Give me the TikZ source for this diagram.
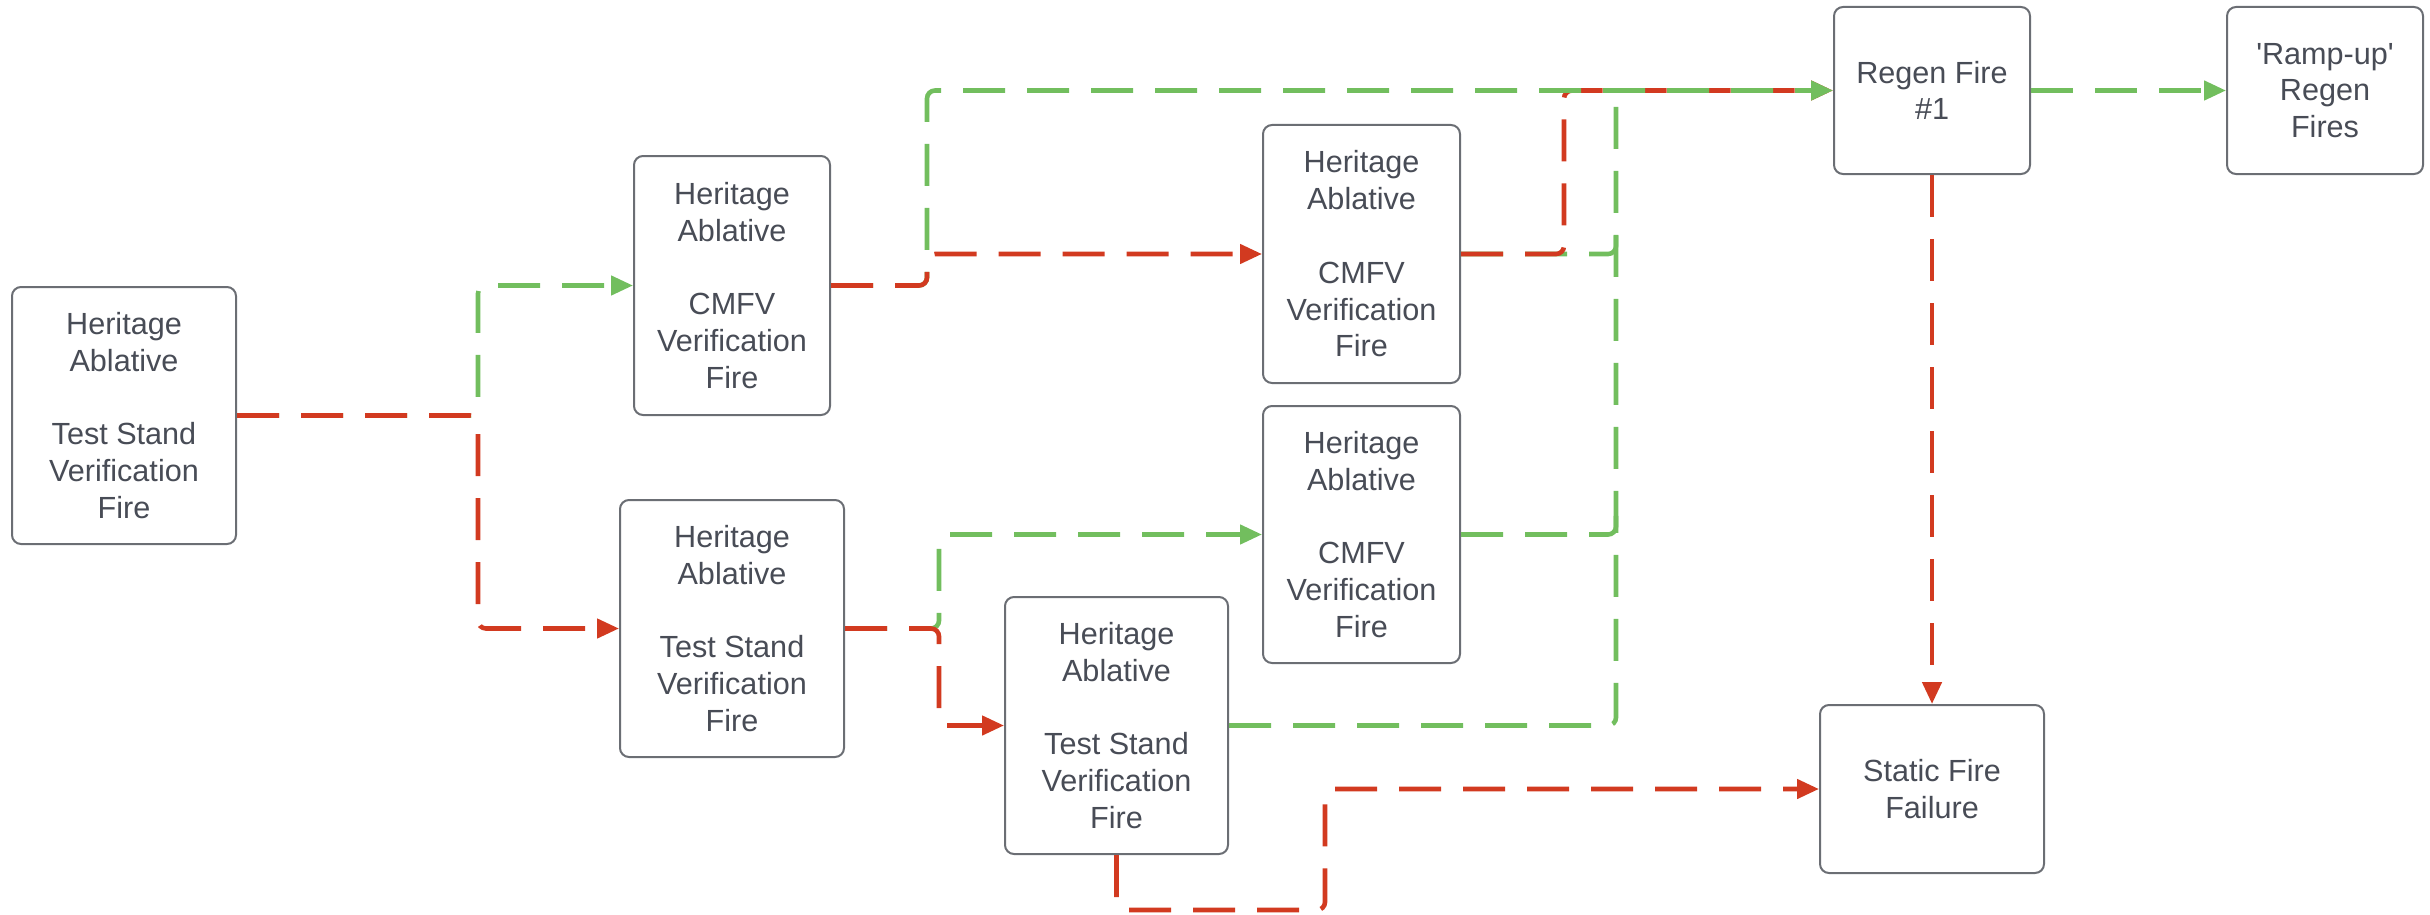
\documentclass[tikz,border=0pt]{standalone}
\usepackage{fontspec}
\setmainfont{Liberation Sans}
\newfontfamily\qfont{Liberation Sans}
\usetikzlibrary{arrows.meta}
\definecolor{lred}{HTML}{D23A20}
\definecolor{lgreen}{HTML}{72BE5E}
\definecolor{boxline}{HTML}{6B6E74}
\definecolor{txt}{HTML}{484C56}
\tikzset{
  box/.style={draw=boxline, line width=1pt, rounded corners=4.5pt, fill=white,
    inner sep=0pt, align=center, text=txt,
    font=\fontsize{15.3}{18.4}\selectfont},
  line/.style={line width=2.3pt, dash pattern=on 21pt off 11pt, rounded corners=4pt},
  conn/.style={line, -{Triangle[length=11pt,width=9.5pt]}},
  redl/.style={conn, draw=lred},
  greenl/.style={conn, draw=lgreen},
  greenj/.style={line, draw=lgreen},
}
\begin{document}
\begin{tikzpicture}[x=0.5pt,y=-0.5pt]
\useasboundingbox (0,0) rectangle (2430,915);
% nodes
\node[box, minimum width=112pt, minimum height=128.5pt] (A) at (124,415.5)
  {Heritage\\Ablative\\[18.4pt]Test Stand\\Verification\\Fire};
\node[box, minimum width=98pt, minimum height=129.5pt] (B1) at (732,285.5)
  {Heritage\\Ablative\\[18.4pt]CMFV\\Verification\\Fire};
\node[box, minimum width=112pt, minimum height=128.5pt] (B2) at (732,628.5)
  {Heritage\\Ablative\\[18.4pt]Test Stand\\Verification\\Fire};
\node[box, minimum width=98.5pt, minimum height=129pt] (C1) at (1361.5,254)
  {Heritage\\Ablative\\[18.4pt]CMFV\\Verification\\Fire};
\node[box, minimum width=98.5pt, minimum height=128.5pt] (C2) at (1361.5,534.5)
  {Heritage\\Ablative\\[18.4pt]CMFV\\Verification\\Fire};
\node[box, minimum width=111.5pt, minimum height=128.5pt] (C3) at (1116.5,725.5)
  {Heritage\\Ablative\\[18.4pt]Test Stand\\Verification\\Fire};
\node[box, minimum width=98pt, minimum height=83.5pt] (R) at (1932,90.5)
  {Regen Fire\\\#1};
\node[box, minimum width=98pt, minimum height=83.5pt] (U) at (2325,90.5)
  {{\qfont'}Ramp-up{\qfont'}\\Regen\\Fires};
\node[box, minimum width=112pt, minimum height=84pt] (S) at (1932,789)
  {Static Fire\\Failure};
% junction coordinates
\coordinate (jA) at (478,415.5);
\coordinate (jB1) at (927,285.5);
\coordinate (jB2) at (939,628.5);
\coordinate (jC1r) at (1564,254);
\coordinate (jC1g) at (1616,254);
\coordinate (jC1u) at (1616,225);
\coordinate (jC2) at (1616,534.5);
\coordinate (jC2u) at (1616,505);
\coordinate (jC3) at (1616,725.5);
\coordinate (jTop) at (1650,90.5);
\coordinate (bC3) at (1325,910);
% connectors (green first, red over the shared stems)
\draw[greenl] (A.east) -- (jA) |- (B1.west);
\draw[redl] (A.east) -- (jA) |- (B2.west);
\draw[greenl] (B2.east) -- (jB2) |- (C2.west);
\draw[redl] (B2.east) -- (jB2) |- (C3.west);
\draw[greenj] (C3.east) -- (jC3) |- (jTop);
\draw[greenj] (C2.east) -- (jC2) -- (jC2u);
\draw[greenj] (C1.east) -- (jC1g) -- (jC1u);
\draw[redl] (C1.east) -- (jC1r) |- (R.west);
\draw[greenl] (B1.east) -- (jB1) |- (R.west);
\draw[redl] (B1.east) -- (jB1) |- (C1.west);
\draw[redl] (C3.south) |- (bC3) |- (S.west);
\draw[redl] (R.south) -- (S.north);
\draw[greenl] (R.east) -- (U.west);
\end{tikzpicture}
\end{document}
